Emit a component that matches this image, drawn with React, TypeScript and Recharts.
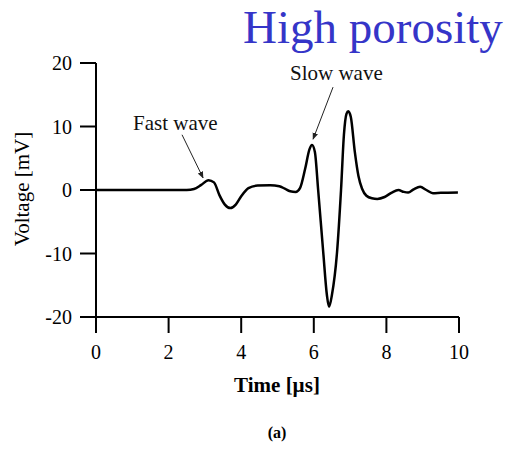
import { LineChart, Line, XAxis, YAxis, ReferenceLine } from "recharts";

// Time [µs] samples and the recorded voltage [mV]
const TIME = [
  0, 0.5, 1, 1.5, 2, 2.5, 2.7, 2.9, 3.1, 3.25, 3.4, 3.55, 3.7, 3.85, 4.0, 4.2, 4.45, 4.8, 5.05, 5.2,
  5.35, 5.5, 5.62, 5.76, 5.88, 5.95, 6.03, 6.12, 6.26, 6.36, 6.42, 6.5, 6.64, 6.75, 6.83, 6.9, 6.95,
  7.02, 7.13, 7.23, 7.33, 7.45, 7.6, 7.75, 7.95, 8.15, 8.33, 8.48, 8.6, 8.75, 8.93, 9.1, 9.28, 9.5, 9.97,
];
const VOLTAGE = [
  0, 0, 0, 0, 0, 0, 0.15, 0.8, 1.55, 1.2, -0.8, -2.3, -2.85, -2.3, -1.0, 0.3, 0.7, 0.75, 0.6, 0.2,
  -0.2, -0.3, 0.3, 3.3, 6.4, 7.1, 6.0, 0, -9.8, -16.5, -18.4, -16.5, -9.8, 0, 8.7, 12, 12.4,
  11.5, 6, 2.2, 0.2, -0.9, -1.3, -1.4, -1.1, -0.4, 0, -0.3, -0.4, 0.1, 0.5, 0, -0.5, -0.45, -0.4,
];
const X_TICKS = [0, 2, 4, 6, 8, 10];
const Y_TICKS = [-20, -10, 0, 10, 20];

// arrow segments [from, to] in data units
const FAST_ARROW = [{ x: 2.37, y: 8.7 }, { x: 2.95, y: 1.9 }];
const SLOW_ARROW = [{ x: 6.53, y: 16.2 }, { x: 5.98, y: 8.0 }];

const data = TIME.map((t, i) => ({ t, v: VOLTAGE[i] }));

const serif = "'Liberation Serif', 'Times New Roman', serif";
const tickStyle = { fill: "#000", fontSize: 20, fontFamily: serif };
const axisStroke = { stroke: "#000", strokeWidth: 2 };

export default function App() {
  return (
    <div style={{ position: "absolute", left: 0, top: 0, width: 520, height: 450, background: "#fff", fontFamily: serif }}>
      <LineChart width={520} height={450} data={data} margin={{ top: 63, right: 61, left: 36, bottom: 103 }}>
        <defs>
          <marker id="arrowhead" viewBox="0 0 10 10" refX="9" refY="5" markerWidth="7" markerHeight="7" orient="auto">
            <path d="M0,1 L10,5 L0,9 z" fill="#222" />
          </marker>
        </defs>
        <XAxis
          dataKey="t"
          type="number"
          domain={[0, 10]}
          ticks={X_TICKS}
          tickSize={16}
          tickMargin={12}
          height={30}
          axisLine={axisStroke}
          tickLine={axisStroke}
          tick={tickStyle}
        />
        <YAxis
          type="number"
          domain={[-20, 20]}
          ticks={Y_TICKS}
          tickSize={16}
          tickMargin={8}
          width={60}
          axisLine={axisStroke}
          tickLine={axisStroke}
          tick={tickStyle}
        />
        <ReferenceLine segment={FAST_ARROW} stroke="#222" strokeWidth={1} markerEnd="url(#arrowhead)" />
        <ReferenceLine segment={SLOW_ARROW} stroke="#222" strokeWidth={1} markerEnd="url(#arrowhead)" />
        <Line
          dataKey="v"
          type="monotone"
          stroke="#000"
          strokeWidth={2.5}
          dot={false}
          isAnimationActive={false}
        />
      </LineChart>
      <div style={{ position: "absolute", left: 243, top: 1, fontSize: 47, color: "#3535c8", whiteSpace: "nowrap", lineHeight: "52px" }}>
        High porosity
      </div>
      <div style={{ position: "absolute", left: 133, top: 110, fontSize: 21, whiteSpace: "nowrap", lineHeight: "26px", color: "#111" }}>
        Fast wave
      </div>
      <div style={{ position: "absolute", left: 290, top: 60, fontSize: 21, whiteSpace: "nowrap", lineHeight: "26px", color: "#111" }}>
        Slow wave
      </div>
      <div
        style={{
          position: "absolute",
          left: 22,
          top: 189,
          transform: "translate(-50%, -50%) rotate(-90deg)",
          fontSize: 21,
          whiteSpace: "nowrap",
          lineHeight: "26px",
        }}
      >
        Voltage [mV]
      </div>
      <div style={{ position: "absolute", left: 277, top: 385, transform: "translate(-50%, -50%)", fontSize: 21, fontWeight: "bold", whiteSpace: "nowrap" }}>
        Time [µs]
      </div>
      <div style={{ position: "absolute", left: 277, top: 433, transform: "translate(-50%, -50%)", fontSize: 16, fontWeight: "bold", whiteSpace: "nowrap" }}>
        (a)
      </div>
    </div>
  );
}
